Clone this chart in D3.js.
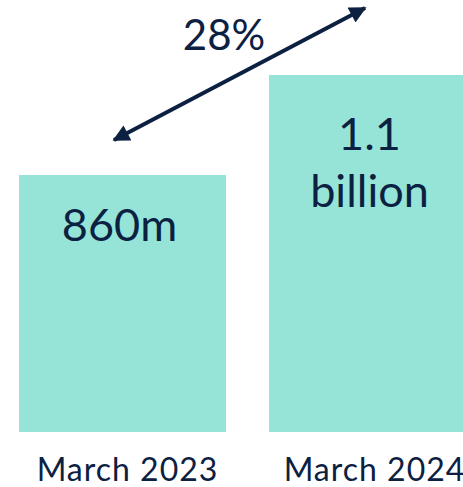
<!DOCTYPE html>
<html>
<head>
<meta charset="utf-8">
<script src="https://cdn.jsdelivr.net/npm/d3@7"></script>
<style>
  html, body { margin: 0; padding: 0; background: #ffffff; overflow: hidden; }
  svg { display: block; }
  text { font-family: Lato, "Open Sans", sans-serif; fill: #0c2142; }
</style>
</head>
<body>
<svg id="chart" width="463" height="487"></svg>
<script>
// Users, in millions
const categories = ["March 2023", "March 2024"];
const values = [860, 1100];
const valueLabels = [["860m"], ["1.1", "billion"]];
const growthLabel = "28%";

const W = 463, H = 487;
const svg = d3.select("#chart");

const x = d3.scaleBand()
  .domain(categories)
  .range([19, 476])
  .paddingInner(0.172)
  .paddingOuter(0);

const y = d3.scaleLinear()
  .domain([243, 1100])
  .range([432, 75]);

const barColor = "#96e4d8";
const ink = "#0c2142";

// bars
svg.selectAll("rect.bar")
  .data(categories)
  .join("rect")
  .attr("class", "bar")
  .attr("x", d => x(d))
  .attr("y", (d, i) => y(values[i]))
  .attr("width", x.bandwidth())
  .attr("height", (d, i) => y.range()[0] - y(values[i]))
  .attr("fill", barColor);

// category labels under the bars
svg.selectAll("text.cat")
  .data(categories)
  .join("text")
  .attr("class", "cat")
  .attr("text-anchor", "middle")
  .attr("x", (d, i) => x(d) + x.bandwidth() / 2 + (i === 0 ? 5 : 2))
  .attr("y", 481)
  .attr("font-size", 32)
  .attr("letter-spacing", 1)
  .text(d => d);

// value labels inside bars
const vl = svg.selectAll("text.val")
  .data(categories)
  .join("text")
  .attr("class", "val")
  .attr("text-anchor", "middle")
  .attr("font-size", 45)
  .attr("x", d => x(d) + x.bandwidth() / 2 - 3)
  .attr("y", (d, i) => y(values[i]) + (valueLabels[i].length > 1 ? 75 : 66));

vl.selectAll("tspan")
  .data((d, i) => valueLabels[i])
  .join("tspan")
  .attr("x", function () { return d3.select(this.parentNode).attr("x"); })
  .attr("dy", (d, j) => j === 0 ? 0 : 57)
  .text(d => d);

// growth arrow between the two bars
const defs = svg.append("defs");
defs.append("marker")
  .attr("id", "head")
  .attr("viewBox", "0 0 10 10")
  .attr("refX", 9)
  .attr("refY", 5)
  .attr("markerWidth", 4.5)
  .attr("markerHeight", 4.2)
  .attr("markerUnits", "strokeWidth")
  .attr("orient", "auto-start-reverse")
  .append("path")
  .attr("d", "M0,0 L10,5 L0,10 Z")
  .attr("fill", ink);

const x0 = x(categories[0]) + 95, y0 = y(values[0]) - 35;
const x1 = x(categories[1]) + 96, y1 = y(values[1]) - 67;
svg.append("line")
  .attr("x1", x0).attr("y1", y0)
  .attr("x2", x1).attr("y2", y1)
  .attr("stroke", ink)
  .attr("stroke-width", 4)
  .attr("marker-start", "url(#head)")
  .attr("marker-end", "url(#head)");

svg.append("text")
  .attr("x", 224)
  .attr("y", 50)
  .attr("text-anchor", "middle")
  .attr("font-size", 42)
  .text(growthLabel);
</script>
</body>
</html>
